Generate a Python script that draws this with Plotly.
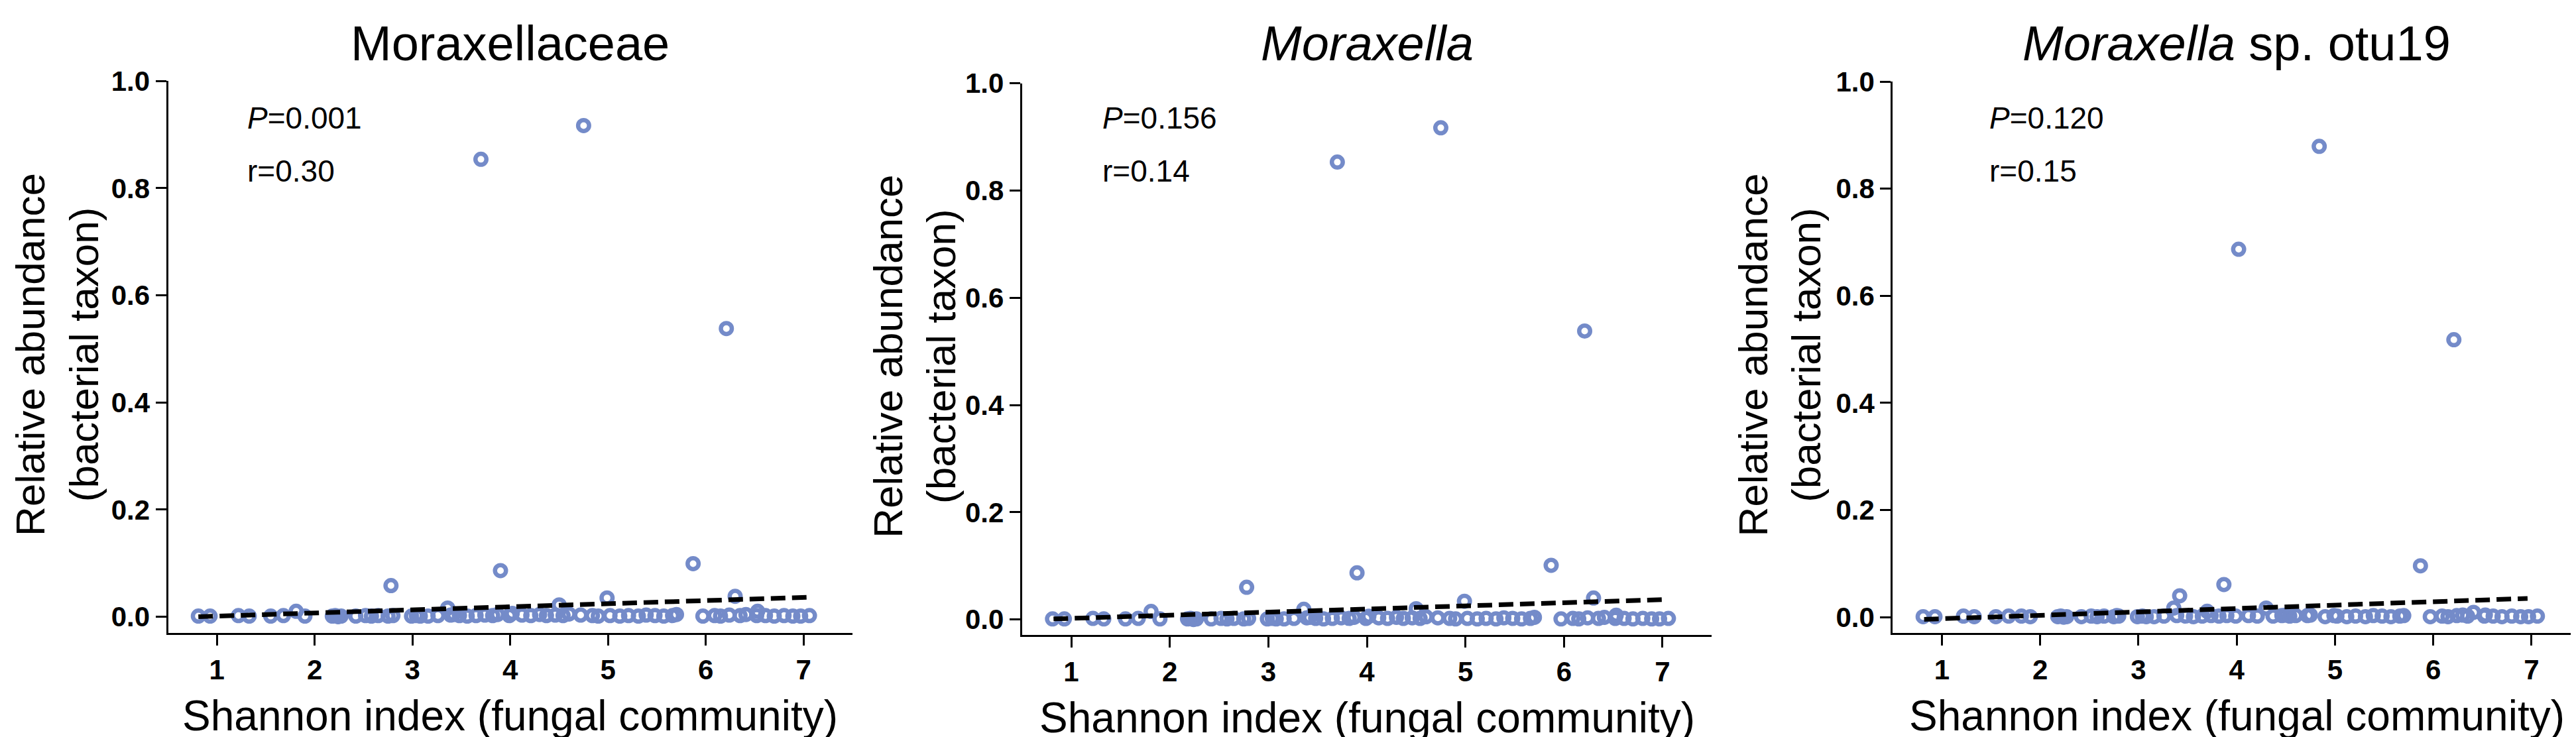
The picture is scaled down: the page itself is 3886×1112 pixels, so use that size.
import plotly.graph_objects as go

W, H = 3886, 1112
FONT = "Liberation Sans, Arial, Helvetica, sans-serif"
MARK = "#748bc9"

# ---- data ----
shannon = [0.81, 0.93, 1.22, 1.33, 1.55, 1.68, 1.81, 1.90, 2.18, 2.21,
           2.24, 2.27, 2.42, 2.52, 2.58, 2.65, 2.75, 2.78, 2.80, 2.99,
           3.04, 3.08, 3.16, 3.26, 3.36, 3.39, 3.42, 3.48, 3.56, 3.65,
           3.70, 3.74, 3.82, 3.87, 3.90, 3.99, 4.02, 4.12, 4.21, 4.30,
           4.37, 4.46, 4.50, 4.54, 4.60, 4.72, 4.75, 4.84, 4.90, 4.99,
           5.02, 5.12, 5.21, 5.31, 5.39, 5.48, 5.57, 5.66, 5.70, 5.87,
           5.97, 6.09, 6.15, 6.21, 6.24, 6.30, 6.35, 6.41, 6.52, 6.53,
           6.61, 6.70, 6.80, 6.89, 6.97, 7.06]

abund_moraxellaceae = [0.001, 0.001, 0.002, 0.001, 0.001, 0.002, 0.010, 0.001, 0.001, 0.002,
                       0.000, 0.001, 0.001, 0.002, 0.001, 0.002, 0.001, 0.058, 0.002, 0.001,
                       0.002, 0.001, 0.001, 0.002, 0.016, 0.003, 0.004, 0.002, 0.001, 0.002,
                       0.854, 0.003, 0.002, 0.004, 0.086, 0.002, 0.006, 0.003, 0.002, 0.004,
                       0.002, 0.003, 0.022, 0.002, 0.005, 0.003, 0.917, 0.002, 0.001, 0.035,
                       0.002, 0.001, 0.002, 0.001, 0.003, 0.002, 0.001, 0.002, 0.004, 0.099,
                       0.001, 0.002, 0.001, 0.538, 0.003, 0.038, 0.002, 0.004, 0.002, 0.010,
                       0.002, 0.001, 0.002, 0.001, 0.001, 0.002]

abund_moraxella = [0.001, 0.001, 0.002, 0.001, 0.001, 0.002, 0.015, 0.001, 0.001, 0.002,
                   0.000, 0.001, 0.001, 0.002, 0.001, 0.002, 0.001, 0.060, 0.002, 0.001,
                   0.002, 0.001, 0.001, 0.002, 0.019, 0.003, 0.004, 0.002, 0.001, 0.002,
                   0.853, 0.003, 0.002, 0.004, 0.087, 0.002, 0.006, 0.003, 0.002, 0.004,
                   0.002, 0.003, 0.020, 0.002, 0.005, 0.003, 0.917, 0.002, 0.001, 0.034,
                   0.002, 0.001, 0.002, 0.001, 0.003, 0.002, 0.001, 0.002, 0.004, 0.101,
                   0.001, 0.002, 0.001, 0.538, 0.003, 0.040, 0.002, 0.004, 0.002, 0.008,
                   0.002, 0.001, 0.002, 0.001, 0.001, 0.002]

abund_otu19 = [0.001, 0.001, 0.002, 0.001, 0.001, 0.002, 0.002, 0.001, 0.001, 0.002,
               0.000, 0.001, 0.001, 0.002, 0.001, 0.002, 0.001, 0.003, 0.002, 0.001,
               0.002, 0.001, 0.001, 0.002, 0.017, 0.003, 0.040, 0.002, 0.001, 0.002,
               0.011, 0.003, 0.002, 0.061, 0.003, 0.002, 0.687, 0.003, 0.002, 0.017,
               0.002, 0.003, 0.004, 0.002, 0.003, 0.003, 0.004, 0.879, 0.001, 0.003,
               0.002, 0.001, 0.002, 0.001, 0.003, 0.002, 0.001, 0.002, 0.003, 0.096,
               0.001, 0.002, 0.001, 0.518, 0.003, 0.004, 0.002, 0.009, 0.002, 0.004,
               0.002, 0.001, 0.002, 0.001, 0.001, 0.002]

fit_x = [[0.81, 7.03], [0.82, 7.00], [0.82, 6.96]]
fit_y = [[0.000, 0.036], [0.001, 0.037], [-0.004, 0.035]]

titles = ["Moraxellaceae", "<i>Moraxella</i>", "<i>Moraxella</i> sp. otu19"]
p_labels = ["<i>P</i>=0.001", "<i>P</i>=0.156", "<i>P</i>=0.120"]
r_labels = ["r=0.30", "r=0.14", "r=0.15"]
x_ticks = [1, 2, 3, 4, 5, 6, 7]
y_ticks = [0.0, 0.2, 0.4, 0.6, 0.8, 1.0]
x_title = "Shannon index (fungal community)"
y_title = "Relative abundance<br>(bacterial taxon)"

series = [abund_moraxellaceae, abund_moraxella, abund_otu19]

# ---- geometry (pixels) ----
panels = [
    dict(x0=245.5, x1=1278.0, top=93.3, bot=944.0, ymin=-0.031, ytx=-167.5, px=362.7),
    dict(x0=1533.7, x1=2574.3, top=96.7, bot=946.7, ymin=-0.029, ytx=-162.0, px=1652.7),
    dict(x0=2847.2, x1=3885.0, top=94.0, bot=944.0, ymin=-0.030, ytx=-170.0, px=2990.7),
]

fig = go.Figure()
annotations = []
layout = {}

for i, (p, ys) in enumerate(zip(panels, series)):
    n = "" if i == 0 else str(i + 1)
    xa, ya = "x" + n, "y" + n
    fig.add_trace(go.Scatter(
        x=shannon, y=ys, mode="markers", xaxis=xa, yaxis=ya,
        marker=dict(symbol="circle-open", size=16.5, color=MARK,
                    line=dict(width=6.5, color=MARK)),
        showlegend=False, hoverinfo="x+y"))
    fig.add_trace(go.Scatter(
        x=fit_x[i], y=fit_y[i], mode="lines", xaxis=xa, yaxis=ya,
        line=dict(color="black", width=7, dash="22px,10px"),
        showlegend=False, hoverinfo="skip"))

    layout["xaxis" + n] = dict(
        domain=[p["x0"] / W, p["x1"] / W], anchor=ya, range=[0.5, 7.5],
        tickvals=x_ticks, ticktext=[str(v) for v in x_ticks],
        showline=True, linecolor="black", linewidth=3,
        ticks="outside", ticklen=16, tickwidth=3, tickcolor="black",
        showgrid=False, zeroline=False,
        tickfont=dict(family=FONT, size=42, color="black", weight="bold"))
    layout["yaxis" + n] = dict(
        domain=[1 - p["bot"] / H, 1 - p["top"] / H], anchor=xa,
        range=[p["ymin"], 1.0],
        tickvals=y_ticks, ticktext=["%.1f" % v for v in y_ticks],
        showline=True, linecolor="black", linewidth=3,
        ticks="outside", ticklen=16, tickwidth=3, tickcolor="black",
        showgrid=False, zeroline=False,
        tickfont=dict(family=FONT, size=42, color="black", weight="bold"))

    cx = (p["x0"] + p["x1"]) / 2
    cy = (p["top"] + p["bot"]) / 2
    # panel title
    annotations.append(dict(text=titles[i], xref="paper", yref="paper",
                            x=cx / W, y=1 - 35 / H, xanchor="center", yanchor="middle",
                            showarrow=False, font=dict(family=FONT, size=74, color="black")))
    # x title
    annotations.append(dict(text=x_title, xref="paper", yref="paper",
                            x=cx / W, y=1 - (1071.5 + (p["bot"] - 944)) / H,
                            xanchor="center", yanchor="middle",
                            showarrow=False, font=dict(family=FONT, size=64, color="black")))
    # y title
    annotations.append(dict(text=y_title, xref="paper", yref="paper",
                            x=(p["x0"] + p["ytx"]) / W, y=1 - (cy - 4) / H,
                            xanchor="center", yanchor="middle", textangle=-90,
                            showarrow=False, font=dict(family=FONT, size=62, color="black")))
    # stats
    annotations.append(dict(text=p_labels[i], xref="paper", yref="paper",
                            x=p["px"] / W, y=1 - 149.7 / H, xanchor="left", yanchor="middle",
                            showarrow=False, font=dict(family=FONT, size=46, color="black")))
    annotations.append(dict(text=r_labels[i], xref="paper", yref="paper",
                            x=p["px"] / W, y=1 - 232.3 / H, xanchor="left", yanchor="middle",
                            showarrow=False, font=dict(family=FONT, size=46, color="black")))

fig.update_layout(
    width=W, height=H, margin=dict(l=0, r=0, t=0, b=0),
    paper_bgcolor="white", plot_bgcolor="white",
    annotations=annotations, **layout)

fig.write_html("out.html")
